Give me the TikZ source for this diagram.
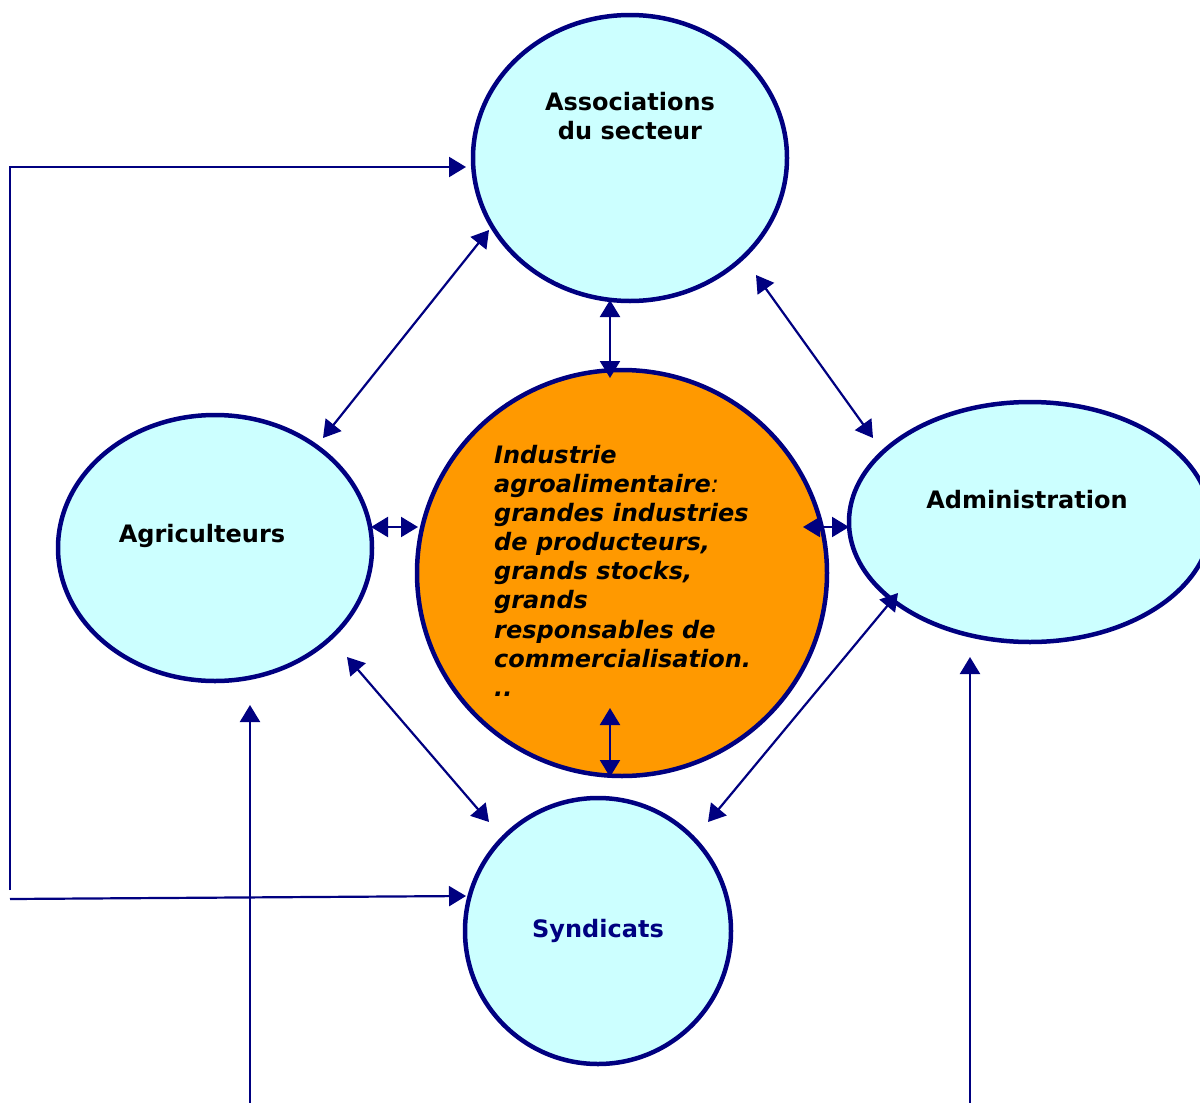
\documentclass[tikz,border=0pt]{standalone}
\usepackage{fontspec}
\setmainfont{DejaVu Sans}
\usetikzlibrary{shapes.geometric,arrows.meta}
\definecolor{navy}{RGB}{0,0,128}
\definecolor{lcyan}{RGB}{204,255,255}
\definecolor{orng}{RGB}{255,153,0}
\tikzset{
  bubble/.style={ellipse, draw=navy, line width=4.5pt, fill=lcyan, inner sep=0pt},
  lbl/.style={font=\fontsize{24}{29}\selectfont\bfseries, align=center, inner sep=0pt},
  conn/.style={draw=navy, line width=2.2pt},
  tip/.style={-{Triangle[length=17pt,width=20pt]}},
  dtip/.style={{Triangle[length=17pt,width=20pt]}-{Triangle[length=17pt,width=20pt]}},
}
\begin{document}
\begin{tikzpicture}[x=1pt,y=-1pt]
\useasboundingbox (0,0) rectangle (1200,1103);
% ellipses
\node[bubble, minimum width=314pt, minimum height=286pt] (assoc) at (630,158) {};
\node[bubble, minimum width=314pt, minimum height=266pt] (agri) at (215,548) {};
\node[bubble, fill=orng, minimum width=410pt, minimum height=406pt] (ind) at (622,573) {};
\node[bubble, minimum width=362pt, minimum height=240pt] (admin) at (1030,522) {};
\node[bubble, minimum width=266pt, minimum height=266pt] (synd) at (598,931) {};
% labels
\node[lbl] (tassoc) at (630,116) {Associations\\du secteur};
\node[lbl] (tagri) at (202,536) {Agriculteurs};
\node[lbl] (tadmin) at (1027,500) {Administration};
\node[lbl, text=navy] (tsynd) at (598,931) {Syndicats};
\node[lbl, font=\fontsize{24}{29.1}\selectfont\bfseries\itshape, align=left, anchor=north west] (tind) at (494,445)
 {Industrie\\agroalimentaire\textmd{:}\\grandes industries\\de producteurs,\\grands stocks,\\grands\\responsables de\\commercialisation.\\..};
% connector end points
\coordinate (a1) at (489,230); \coordinate (g1) at (323,438);
\coordinate (a2) at (610,300); \coordinate (i2) at (610,378);
\coordinate (a3) at (756,275); \coordinate (d3) at (873,438);
\coordinate (g4) at (371,527); \coordinate (i4) at (418,527);
\coordinate (i5) at (803,527); \coordinate (d5) at (849,527);
\coordinate (g6) at (347,657); \coordinate (s6) at (489,822);
\coordinate (i7) at (610,708); \coordinate (i7b) at (610,777);
\coordinate (d8) at (898,593); \coordinate (s8) at (708,822);
\coordinate (l0) at (10,890); \coordinate (l1) at (10,167); \coordinate (aL) at (466,167);
\coordinate (l2) at (10,899); \coordinate (sL) at (466,896);
\coordinate (b1) at (250,1103); \coordinate (gB) at (250,705);
\coordinate (b2) at (970,1103); \coordinate (dB) at (970,657);
% connectors
\draw[conn, dtip] (a1) -- (g1);
\draw[conn, dtip] (a2) -- (i2);
\draw[conn, dtip] (a3) -- (d3);
\draw[conn, dtip] (g4) -- (i4);
\draw[conn, dtip] (i5) -- (d5);
\draw[conn, dtip] (g6) -- (s6);
\draw[conn, dtip] (i7) -- (i7b);
\draw[conn, dtip] (d8) -- (s8);
\draw[conn, tip] (l0) -- (l1) -- (aL);
\draw[conn, tip] (l2) -- (sL);
\draw[conn, tip] (b1) -- (gB);
\draw[conn, tip] (b2) -- (dB);
\end{tikzpicture}
\end{document}
